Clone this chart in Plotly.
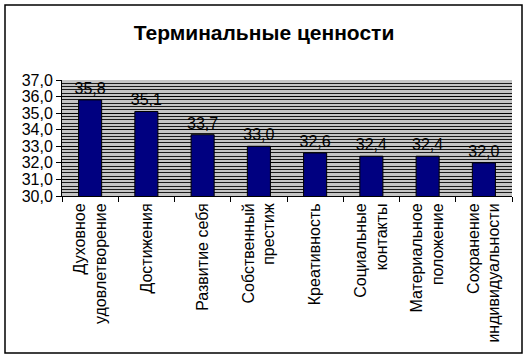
import plotly.graph_objects as go

categories = [
    "Духовное<br>удовлетворение",
    "Достижения",
    "Развитие себя",
    "Собственный<br>престиж",
    "Креативность",
    "Социальные<br>контакты",
    "Материальное<br>положение",
    "Сохранение<br>индивидуальности",
]
values = [35.8, 35.1, 33.7, 33.0, 32.6, 32.4, 32.4, 32.0]
title_text = "Терминальные ценности"

FONT = "Liberation Sans, Arial, sans-serif"

fig = go.Figure(
    go.Bar(
        x=categories,
        y=values,
        marker=dict(color="#000080", line=dict(color="#000000", width=1)),
        texttemplate="%{y:.1f}",
        textposition="outside",
        constraintext="none",
        textfont=dict(family=FONT, size=16, color="#000000"),
        cliponaxis=False,
        width=0.41,
    )
)

L, R, T, B = 62, 16, 80, 164
W, H = 528, 360
pw, ph = W - L - R, H - T - B

fig.update_layout(
    width=W,
    height=H,
    margin=dict(l=L, r=R, t=T, b=B, pad=0, autoexpand=False),
    paper_bgcolor="#ffffff",
    plot_bgcolor="#c4c4c4",
    separators=", ",
    showlegend=False,
    title=dict(
        text="<b>" + title_text + "</b>",
        x=264 / W,
        xanchor="center",
        y=1 - 33 / H,
        yanchor="middle",
        font=dict(family=FONT, size=21, color="#000000"),
    ),
    font=dict(family=FONT, size=16, color="#000000"),
    xaxis=dict(
        tickangle=-90,
        showline=True,
        linecolor="#000000",
        linewidth=1,
        ticks="outside",
        ticklen=5,
        tickcolor="#000000",
        tickson="boundaries",
        tickfont=dict(family=FONT, size=16, color="#000000"),
        showgrid=False,
        automargin=False,
    ),
    yaxis=dict(
        range=[30, 37],
        dtick=1,
        tickformat=".1f",
        showline=True,
        linecolor="#000000",
        linewidth=1,
        ticks="outside",
        ticklen=5,
        tickcolor="#000000",
        tickfont=dict(family=FONT, size=16, color="#000000"),
        showgrid=True,
        gridcolor="#000000",
        gridwidth=1,
        zeroline=False,
        automargin=False,
        minor=dict(dtick=0.2, showgrid=True, gridcolor="#1a1a1a", gridwidth=1),
    ),
)

# outer chart border
fig.add_shape(
    type="rect",
    xref="paper",
    yref="paper",
    x0=(5 - L) / pw,
    x1=(522 - L) / pw,
    y0=(H - B - 353) / ph,
    y1=(H - B - 5) / ph,
    line=dict(color="#000000", width=1.5),
    fillcolor="rgba(0,0,0,0)",
    layer="below",
)

fig.write_html(
    "out.html",
    config={"displayModeBar": False},
    post_script="document.body.style.margin='0';document.body.style.overflow='hidden';",
)
